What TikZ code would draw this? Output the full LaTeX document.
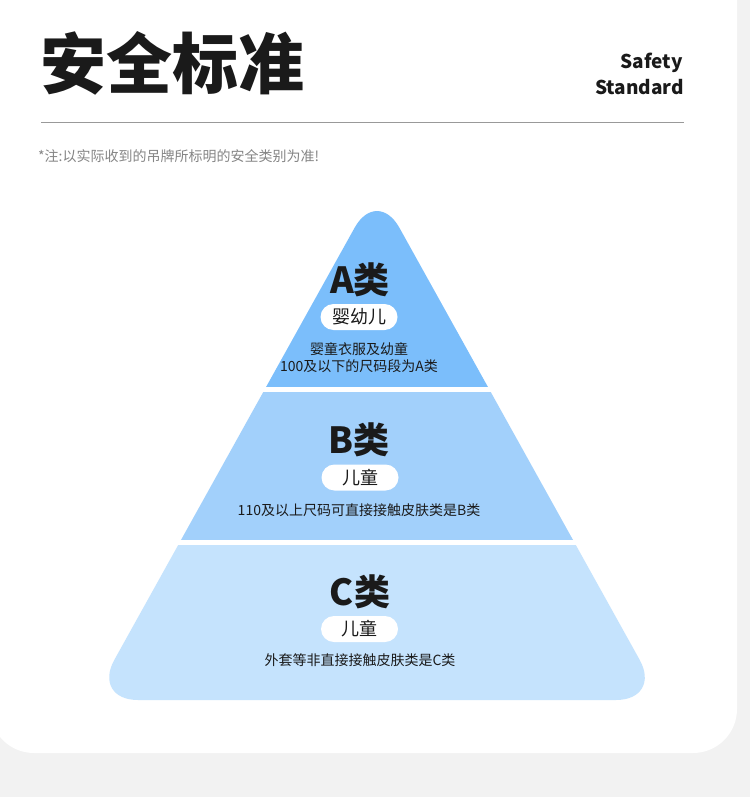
\documentclass[tikz,border=0pt]{standalone}
\usepackage{fontspec}
\setmainfont{Noto Sans CJK SC}
\definecolor{pagebg}{HTML}{F2F2F2}
\definecolor{tierA}{HTML}{7BBEFB}
\definecolor{tierB}{HTML}{A2D0FB}
\definecolor{tierC}{HTML}{C5E3FD}
\definecolor{ink}{HTML}{1A1A1A}
\definecolor{notegray}{HTML}{858585}
\definecolor{rulegray}{HTML}{999999}
\tikzset{
  biglabel/.style={font=\fontsize{36}{40}\selectfont\bfseries, text=ink, inner sep=0pt, anchor=base},
  pill/.style={fill=white, rounded corners=13pt, minimum width=77pt, minimum height=26pt, inner sep=0pt, font=\fontsize{18}{20}\selectfont, text=ink},
  desc/.style={font=\fontsize{14}{17}\selectfont, text=ink, inner sep=0pt, align=center},
}
\begin{document}
\begin{tikzpicture}[x=1pt,y=-1pt]
\useasboundingbox (0,0) rectangle (750,797);
\fill[pagebg] (0,0) rectangle (750,797);
\fill[white, rounded corners=44pt] (-10,-80) rectangle (737,753);
% header
\node[anchor=west, inner sep=0pt, font=\fontsize{66}{70}\selectfont\bfseries, text=ink] (title) at (40,63) {安全标准};
\node[anchor=base east, inner sep=0pt, font=\fontsize{19}{22}\selectfont\bfseries, text=ink] (en1) at (683,69) {Safety};
\node[anchor=base east, inner sep=0pt, font=\fontsize{19}{22}\selectfont\bfseries, text=ink] (en2) at (684,95) {Standard};
\draw[rulegray, line width=1.5pt] (41,122.5) -- (684,122.5);
\node[anchor=base west, inner sep=0pt, font=\fontsize{14}{16}\selectfont, text=notegray] (note) at (38,161) {*注:以实际收到的吊牌所标明的安全类别为准!};
% pyramid
\begin{scope}
\clip[rounded corners=46pt] (377,700) -- (662,700) -- (377,187.5) -- (92,700) -- cycle;
\fill[tierA] (0,150) rectangle (750,387);
\fill[tierB] (0,392) rectangle (750,539.5);
\fill[tierC] (0,545) rectangle (750,720);
\end{scope}
% tier A
\node[biglabel] (Alab) at (360,293) {A类};
\node[pill] (Apill) at (359,317) {婴幼儿};
\node[desc] (Adesc) at (359,358) {婴童衣服及幼童\\100及以下的尺码段为A类};
% tier B
\node[biglabel] (Blab) at (359,453) {B类};
\node[pill] (Bpill) at (360,477.5) {儿童};
\node[desc] (Bdesc) at (359,510) {110及以上尺码可直接接触皮肤类是B类};
% tier C
\node[biglabel] (Clab) at (360,605) {C类};
\node[pill] (Cpill) at (359.5,629) {儿童};
\node[desc] (Cdesc) at (360,660) {外套等非直接接触皮肤类是C类};
\end{tikzpicture}
\end{document}
